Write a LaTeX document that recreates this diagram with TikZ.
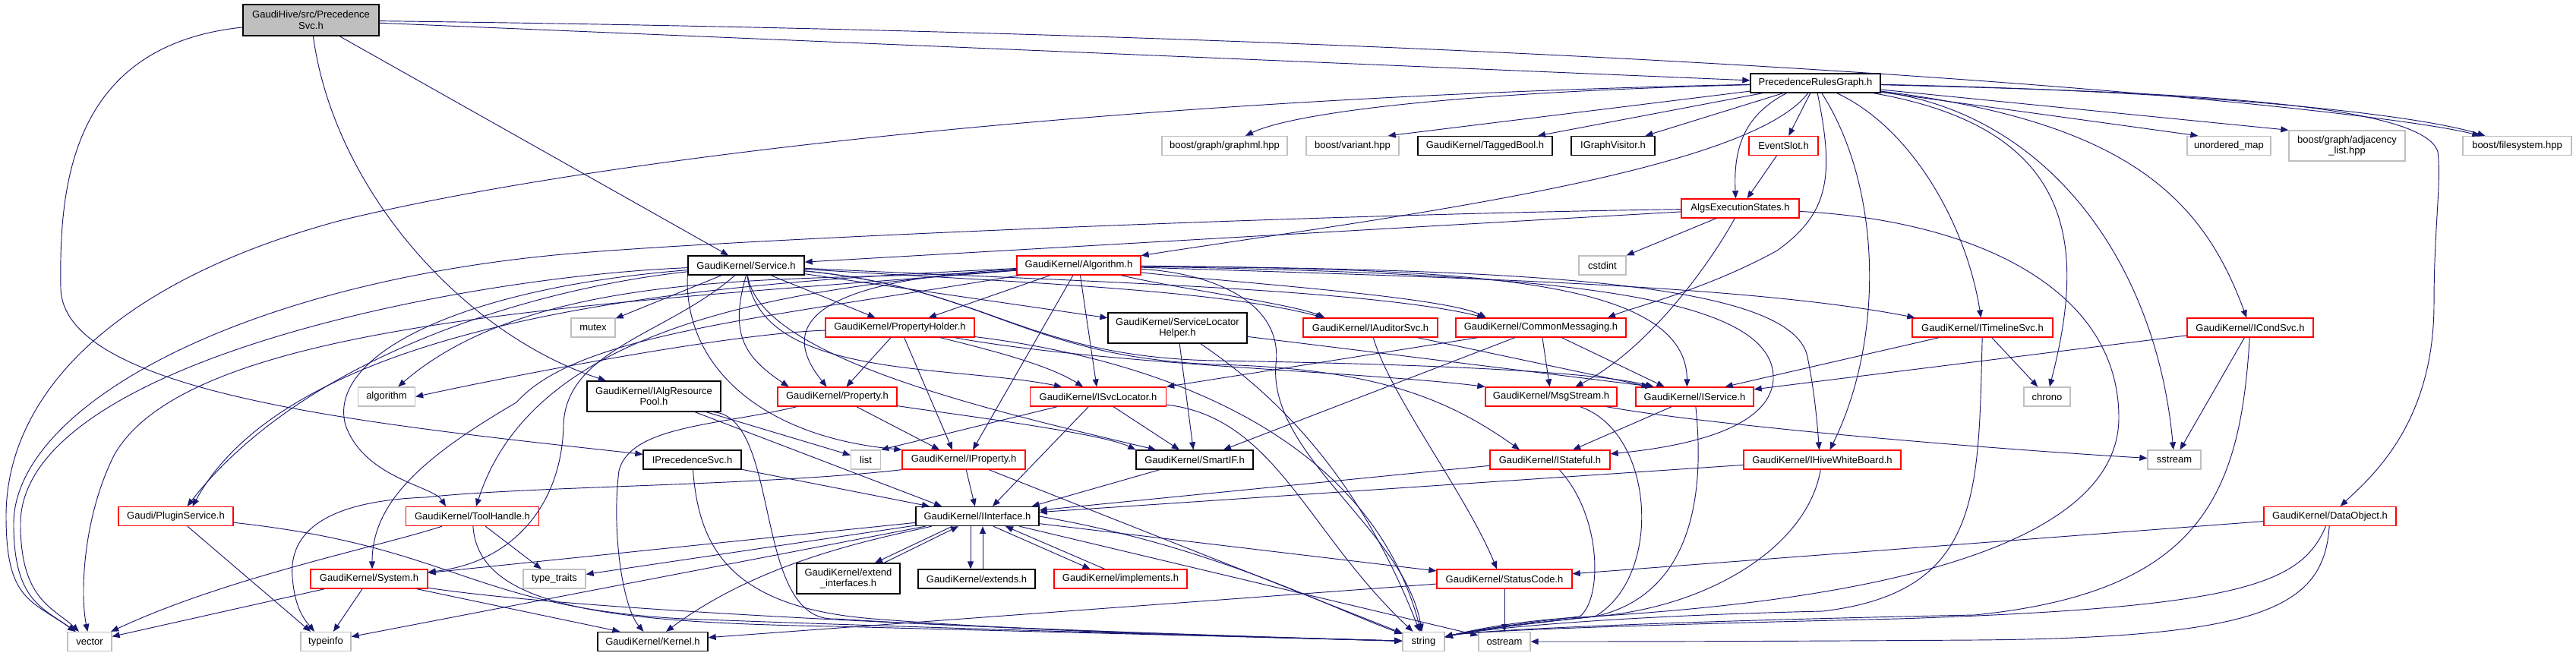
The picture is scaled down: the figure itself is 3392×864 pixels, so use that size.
\documentclass[tikz,border=0pt]{standalone}
\usepackage{fontspec}
\setmainfont{Liberation Sans}
\usetikzlibrary{arrows.meta,calc}
\definecolor{edgeblue}{HTML}{191970}
\definecolor{boxgray}{HTML}{BFBFBF}
\definecolor{boxred}{HTML}{FF0000}
\begin{document}
\begin{tikzpicture}[
                x = 0.75pt,
                y = -0.75pt,
                ->,
                > = {Triangle[length=7.5pt, width=6pt]},
                color = edgeblue,
                line width = 0.7pt
                ]

                \tikzstyle{file}=[
                        rectangle,
                        draw = black,
                        text = black,
                        fill = white,
                        line width = 1pt,
                        inner xsep = 2pt,
                        inner ysep = 1pt,
                        minimum height = 18.75pt,
                        align = center,
                        font = \fontsize{9.75}{11}\selectfont
                ]
                \tikzstyle{redfile}=[file, draw = boxred]
                \tikzstyle{stdfile}=[file, draw = boxgray]
                \tikzstyle{mainfile}=[file, fill = boxgray]

                \path[fill = white] (0,0) rectangle (3392,864);
                \useasboundingbox (0,0) rectangle (3392,864);

                \node[mainfile, minimum width=134.25pt, minimum height=30.75pt] (psvc) at (409.5,26.5) {GaudiHive/src/Precedence\\Svc.h};
                \node[file, minimum width=128.25pt] (prg) at (2390.5,109.5) {PrecedenceRulesGraph.h};
                \node[stdfile, minimum width=123.75pt] (graphml) at (1612.5,192) {boost/graph/graphml.hpp};
                \node[stdfile, minimum width=91.5pt] (variant) at (1781,192) {boost/variant.hpp};
                \node[file, minimum width=132.75pt] (tagged) at (1955.5,192) {GaudiKernel/TaggedBool.h};
                \node[file, minimum width=82.5pt] (igv) at (2124,192) {IGraphVisitor.h};
                \node[redfile, minimum width=68.25pt] (evslot) at (2348.5,192) {EventSlot.h};
                \node[stdfile, minimum width=82.5pt] (unmap) at (2935,192) {unordered\_map};
                \node[stdfile, minimum width=114.75pt, minimum height=30pt] (adjl) at (3090.5,192) {boost/graph/adjacency\\\_list.hpp};
                \node[stdfile, minimum width=107.25pt] (fsys) at (3314.5,192) {boost/filesystem.hpp};
                \node[redfile, minimum width=116.25pt] (aes) at (2291.5,274.5) {AlgsExecutionStates.h};
                \node[file, minimum width=114.75pt] (service) at (982.5,349.5) {GaudiKernel/Service.h};
                \node[redfile, minimum width=122.25pt] (algorithm) at (1420.5,349.5) {GaudiKernel/Algorithm.h};
                \node[stdfile, minimum width=46.5pt] (cstdint) at (2110,349.5) {cstdint};
                \node[stdfile, minimum width=43.5pt] (mutex) at (781,431.5) {mutex};
                \node[redfile, minimum width=147pt] (propholder) at (1185,431.5) {GaudiKernel/PropertyHolder.h};
                \node[file, minimum width=137.25pt, minimum height=30pt] (slhelper) at (1550.5,432) {GaudiKernel/ServiceLocator\\Helper.h};
                \node[redfile, minimum width=132.75pt] (iauditor) at (1804.5,431.5) {GaudiKernel/IAuditorSvc.h};
                \node[redfile, minimum width=168pt] (commsg) at (2029,431.5) {GaudiKernel/CommonMessaging.h};
                \node[redfile, minimum width=138.75pt] (itimeline) at (2610.5,431.5) {GaudiKernel/ITimelineSvc.h};
                \node[redfile, minimum width=124.5pt] (icond) at (2963,431.5) {GaudiKernel/ICondSvc.h};
                \node[stdfile, minimum width=56.25pt] (algo) at (509,522.5) {algorithm};
                \node[file, minimum width=132pt, minimum height=30pt] (ialgpool) at (861,522) {GaudiKernel/IAlgResource\\Pool.h};
                \node[redfile, minimum width=117.75pt] (property) at (1102.5,522.5) {GaudiKernel/Property.h};
                \node[redfile, minimum width=134.25pt] (isvcloc) at (1446,522.5) {GaudiKernel/ISvcLocator.h};
                \node[redfile, minimum width=129.75pt] (msgstream) at (2042.5,522.5) {GaudiKernel/MsgStream.h};
                \node[redfile, minimum width=116.25pt] (iservice) at (2231.5,522.5) {GaudiKernel/IService.h};
                \node[stdfile, minimum width=45.75pt] (chrono) at (2695.5,522.5) {chrono};
                \node[file, minimum width=96.75pt] (iprecsvc) at (911.5,605.5) {IPrecedenceSvc.h};
                \node[stdfile, minimum width=29.25pt] (list) at (1140,605.5) {list};
                \node[redfile, minimum width=121.5pt] (iproperty) at (1269,605.5) {GaudiKernel/IProperty.h};
                \node[file, minimum width=115.5pt] (smartif) at (1573,605.5) {GaudiKernel/SmartIF.h};
                \node[redfile, minimum width=118.5pt] (istateful) at (2041,605.5) {GaudiKernel/IStateful.h};
                \node[redfile, minimum width=155.25pt] (ihive) at (2399.5,605.5) {GaudiKernel/IHiveWhiteBoard.h};
                \node[stdfile, minimum width=52.5pt] (sstream) at (2863,605.5) {sstream};
                \node[redfile, minimum width=113.25pt] (plugin) at (231.5,680) {Gaudi/PluginService.h};
                \node[redfile, minimum width=131.25pt] (toolhandle) at (622,680) {GaudiKernel/ToolHandle.h};
                \node[file, minimum width=121.5pt] (iinterface) at (1287,680) {GaudiKernel/IInterface.h};
                \node[redfile, minimum width=130.5pt] (dataobj) at (3068,680) {GaudiKernel/DataObject.h};
                \node[redfile, minimum width=115.5pt] (system) at (486,762.5) {GaudiKernel/System.h};
                \node[stdfile, minimum width=61.5pt] (typetraits) at (730,762.5) {type\_traits};
                \node[file, minimum width=102pt, minimum height=30pt] (extendif) at (1117,762) {GaudiKernel/extend\\\_interfaces.h};
                \node[file, minimum width=115.5pt] (extends) at (1286,762.5) {GaudiKernel/extends.h};
                \node[redfile, minimum width=131.25pt] (implements) at (1475.5,762.5) {GaudiKernel/implements.h};
                \node[redfile, minimum width=133.5pt] (statuscode) at (1981,762.5) {GaudiKernel/StatusCode.h};
                \node[stdfile, minimum width=43.5pt] (vector) at (118,845) {vector};
                \node[stdfile, minimum width=49.5pt] (typeinfo) at (429,845) {typeinfo};
                \node[file, minimum width=108.75pt] (kernel) at (859.5,845) {GaudiKernel/Kernel.h};
                \node[stdfile, minimum width=41.25pt] (string) at (1874.5,845) {string};
                \node[stdfile, minimum width=51pt] (ostream) at (1981,845) {ostream};

                % PrecedenceSvc.h
                \draw (psvc) -- (prg);
                \draw (psvc) .. controls (2300,50) and (3150,148) .. (fsys);
                \draw (psvc) -- (service);
                \draw (psvc) .. controls (440,250) and (610,440) .. (ialgpool);
                \draw (psvc) .. controls (90,60) and (78,250) .. (80,380) .. controls (84,520) and (500,560) .. (iprecsvc);

                % PrecedenceRulesGraph.h
                \draw (prg) .. controls (1500,128) and (800,205) .. (450,290) .. controls (150,370) and (8,520) .. (8,680) .. controls (8,790) and (40,790) .. (vector);
                \draw (prg) .. controls (2300,230) and (1800,290) .. (algorithm);
                \draw (prg) .. controls (1900,122) and (1700,150) .. (graphml);
                \draw (prg) -- ($(variant.north east)+(-15,0)$);
                \draw (prg) -- (tagged);
                \draw (prg) -- (igv);
                \draw (prg) -- (evslot);
                \draw ($(prg.south)+(-38,0)$) .. controls (2300,150) and (2282,190) .. ($(aes.north)+(-6,0)$);
                \draw (prg) .. controls (2415,230) and (2410,280) .. (2340,330) .. controls (2250,380) and (2150,405) .. ($(commsg.north)+(88,0)$);
                \draw (prg) .. controls (2480,250) and (2480,450) .. ($(ihive.north)+(10,0)$);
                \draw (prg) .. controls (2520,170) and (2590,300) .. (itimeline);
                \draw (prg) .. controls (2740,170) and (2745,330) .. (chrono);
                \draw (prg) .. controls (2700,150) and (2840,350) .. (sstream);
                \draw (prg) .. controls (2800,160) and (2900,260) .. (icond);
                \draw (prg) .. controls (2800,120) and (3190,130) .. (3210,200) .. controls (3215,240) and (3205,300) .. (3205,400) .. controls (3205,560) and (3120,630) .. (dataobj);
                \draw (prg) -- ($(unmap.north west)+(15,0)$);
                \draw (prg) -- (adjl.north west);
                \draw (prg) .. controls (2900,120) and (3180,150) .. (fsys);

                % AlgsExecutionStates.h
                \draw (evslot) -- (aes);
                \draw (aes) -- (service);
                \draw (aes) .. controls (1700,283) and (900,318) .. (720,337) .. controls (300,380) and (18,540) .. (18,690) .. controls (18,790) and (55,800) .. (vector);
                \draw (aes) -- (cstdint);
                \draw (aes) .. controls (2250,350) and (2170,460) .. ($(msgstream.north)+(32,0)$);
                \draw (aes) .. controls (2600,290) and (2790,380) .. (2790,550) .. controls (2790,760) and (2300,800) .. (2080,813) .. controls (1990,818) and (1930,832) .. ($(string.east)+(0,-6)$);

                % Service.h
                \draw (service) -- (mutex);
                \draw (service) -- (propholder);
                \draw (service) -- (slhelper);
                \draw (service) .. controls (1300,370) and (1600,380) .. ($(iauditor.north)+(-62,0)$);
                \draw (service) .. controls (1400,370) and (1800,380) .. ($(commsg.north)+(-74,0)$);
                \draw (service) .. controls (1000,500) and (1250,480) .. ($(isvcloc.north)+(-48,0)$);
                \draw (service) .. controls (1300,380) and (1350,470) .. (1600,475) .. controls (1900,480) and (2100,490) .. ($(iservice.north)+(-54,0)$);
                \draw (service) .. controls (1300,380) and (1350,470) .. (1600,480) .. controls (1800,485) and (1900,520) .. ($(istateful.north)+(-40,0)$);
                \draw (service) .. controls (1000,470) and (1300,540) .. ($(smartif.north)+(-51,0)$);
                \draw (service.south west) .. controls (900,480) and (1000,575) .. (iproperty.north west);
                \draw (service.south) .. controls (960,440) and (980,470) .. ($(property.north)+(-64,0)$);
                \draw (service) .. controls (600,380) and (430,470) .. (455,560) .. controls (480,630) and (570,640) .. ($(toolhandle.north)+(-35,0)$);
                \draw (service) .. controls (700,380) and (400,470) .. ($(plugin.north)+(15,0)$);
                \draw (service) .. controls (880,440) and (745,460) .. (742,560) .. controls (740,660) and (680,740) .. (system);
                \draw (service) .. controls (600,365) and (27,480) .. (27,690) .. controls (27,790) and (70,800) .. (vector);

                % Algorithm.h
                \draw (algorithm) -- (propholder);
                \draw (algorithm) -- (isvcloc);
                \draw (algorithm) -- ($(iproperty.north)+(12,0)$);
                \draw (algorithm) .. controls (1550,380) and (1700,400) .. ($(iauditor.north)+(-60,0)$);
                \draw (algorithm) .. controls (1600,370) and (1900,390) .. ($(commsg.north)+(-72,0)$);
                \draw (algorithm) .. controls (1900,355) and (2220,360) .. ($(iservice.north)+(-10,0)$);
                \draw (algorithm) .. controls (2000,360) and (2340,380) .. (2335,500) .. controls (2330,570) and (2200,590) .. (istateful);
                \draw (algorithm) .. controls (2000,355) and (2360,370) .. (2380,470) .. controls (2390,520) and (2393,560) .. ($(ihive.north)+(-4,0)$);
                \draw (algorithm) .. controls (1900,365) and (2300,375) .. ($(itimeline.north west)+(4,0)$);
                \draw (algorithm) .. controls (1150,365) and (1000,400) .. ($(property.north)+(-14,0)$);
                \draw (algorithm) .. controls (1000,380) and (700,440) .. ($(toolhandle.north)+(5,0)$);
                \draw (algorithm) .. controls (1000,370) and (400,400) .. ($(plugin.north)+(22,0)$);
                \draw (algorithm) .. controls (1000,420) and (760,440) .. (680,530) .. controls (560,600) and (490,660) .. ($(system.north)+(4,0)$);
                \draw (algorithm) .. controls (1100,375) and (720,340) .. (algo);
                \draw (algorithm) .. controls (800,400) and (250,420) .. (150,600) .. controls (110,680) and (105,780) .. (vector);
                \draw (algorithm) .. controls (1600,360) and (1690,400) .. (1680,480) .. controls (1670,600) and (1850,700) .. (string);

                % PropertyHolder.h
                \draw (propholder) -- (property);
                \draw (propholder) -- ($(iproperty.north)+(-15,0)$);
                \draw (propholder) .. controls (1300,460) and (1380,480) .. ($(isvcloc.north)+(-20,0)$);
                \draw (propholder) .. controls (1450,480) and (1800,490) .. (msgstream.north west);
                \draw (propholder) .. controls (950,440) and (650,500) .. (algo.east);
                \draw (propholder) .. controls (1500,470) and (1800,560) .. (string);

                % Property.h
                \draw (property) -- ($(iproperty.north)+(-32,0)$);
                \draw (property) .. controls (1250,545) and (1450,570) .. (smartif.north west);
                \draw (property) .. controls (950,560) and (830,560) .. (815,620) .. controls (805,700) and (820,800) .. ($(kernel.north)+(-12,0)$);

                % ISvcLocator.h
                \draw (isvcloc) -- ($(iinterface.north)+(20,0)$);
                \draw (isvcloc) -- (smartif);
                \draw (isvcloc) -- (list.north east);
                \draw (isvcloc) .. controls (1680,550) and (1720,700) .. (string);

                % ServiceLocatorHelper.h
                \draw (slhelper) -- (smartif);
                \draw (slhelper) -- ($(iservice.north)+(-55,0)$);
                \draw (slhelper) .. controls (1650,500) and (1780,600) .. (string);

                % IAuditorSvc.h
                \draw (iauditor) -- ($(iservice.north)+(-60,0)$);
                \draw (iauditor) .. controls (1830,520) and (1930,650) .. ($(statuscode.north)+(-10,0)$);

                % CommonMessaging.h
                \draw (commsg) -- ($(iservice.north)+(-40,0)$);
                \draw (commsg) -- (msgstream);
                \draw (commsg) -- (isvcloc.north east);
                \draw (commsg) -- ($(smartif.north)+(38,0)$);

                % MsgStream.h
                \draw (msgstream) .. controls (2250,560) and (2600,590) .. (sstream);
                \draw (msgstream) .. controls (2180,570) and (2190,760) .. (2100,812) .. controls (2000,822) and (1930,832) .. ($(string.east)+(0,-6)$);

                % IService.h
                \draw (iservice) -- (istateful);
                \draw (iservice) .. controls (2250,700) and (2200,790) .. (2100,812) .. controls (2000,822) and (1930,832) .. ($(string.east)+(0,-6)$);

                % IStateful.h
                \draw (istateful) -- (iinterface);
                \draw (istateful) .. controls (2110,680) and (2110,790) .. (2080,812) .. controls (1990,822) and (1930,832) .. ($(string.east)+(0,-6)$);

                % IHiveWhiteBoard.h
                \draw (ihive) -- (iinterface);
                \draw (ihive) .. controls (2380,720) and (2250,800) .. (2100,812) .. controls (2000,822) and (1930,832) .. ($(string.east)+(0,-6)$);

                % ITimelineSvc.h
                \draw (itimeline) -- ($(iservice.north east)+(-38,0)$);
                \draw (itimeline) -- (chrono);
                \draw (itimeline) .. controls (2605,650) and (2610,780) .. (2400,805) .. controls (2100,812) and (1940,830) .. ($(string.east)+(0,-6)$);

                % ICondSvc.h
                \draw (icond) -- (iservice);
                \draw (icond) -- (sstream);
                \draw (icond) .. controls (2950,650) and (2900,780) .. (2600,810) .. controls (2200,818) and (1940,830) .. ($(string.east)+(0,-6)$);

                % DataObject.h
                \draw (dataobj) -- (statuscode);
                \draw (dataobj) .. controls (3030,770) and (2950,800) .. (2500,815) .. controls (2200,822) and (1940,830) .. ($(string.east)+(0,-6)$);
                \draw (dataobj) .. controls (3060,800) and (2980,840) .. (2600,843) .. controls (2300,845) and (2100,845) .. (ostream);

                % IAlgResourcePool.h
                \draw (ialgpool) -- ($(iinterface.north)+(-47,0)$);
                \draw (ialgpool) -- (list);
                \draw ($(ialgpool.south east)+(-10,0)$) .. controls (1030,550) and (990,820) .. (1100,815) .. controls (1300,828) and (1700,840) .. (string);

                % IPrecedenceSvc.h
                \draw (iprecsvc) -- ($(iinterface.north)+(-63,0)$);
                \draw (iprecsvc) .. controls (920,720) and (960,800) .. (1150,815) .. controls (1400,835) and (1700,840) .. (string);

                % IProperty.h
                \draw (iproperty) -- (iinterface);
                \draw (iproperty) -- (string);
                \draw (iproperty.south west) .. controls (1000,640) and (700,640) .. (560,655) .. controls (430,660) and (380,700) .. (385,760) .. controls (388,800) and (400,815) .. ($(typeinfo.north)+(-15,0)$);

                % SmartIF.h
                \draw (smartif) -- ($(iinterface.north east)+(-10,0)$);

                % IInterface.h
                \draw (iinterface) -- (system);
                \draw (iinterface) -- (typetraits);
                \draw (iinterface) -- (typeinfo);
                \draw (iinterface) .. controls (1150,710) and (1000,740) .. (kernel);
                \draw (iinterface) -- (statuscode);
                \draw (iinterface) -- (ostream);
                \draw (iinterface.east) .. controls (1600,720) and (1750,800) .. (string);
                \draw ($(iinterface.south)+(-33,0)$) -- ($(extendif.north)+(35,0)$);
                \draw ($(extendif.north)+(47,0)$) -- ($(iinterface.south)+(-25,0)$);
                \draw ($(iinterface.south)+(-9,0)$) -- ($(extends.north)+(-8,0)$);
                \draw ($(extends.north)+(8,0)$) -- ($(iinterface.south)+(7,0)$);
                \draw ($(iinterface.south)+(21,0)$) -- ($(implements.north)+(-40,0)$);
                \draw ($(implements.north)+(-21,0)$) -- ($(iinterface.south)+(37,0)$);

                % StatusCode.h
                \draw (statuscode) -- (kernel);
                \draw (statuscode) -- (ostream);

                % System.h
                \draw (system) -- (vector);
                \draw (system) -- ($(typeinfo.north)+(10,0)$);
                \draw (system) -- ($(kernel.north west)+(30,0)$);
                \draw (system) .. controls (800,810) and (1500,835) .. (string);

                % ToolHandle.h
                \draw (toolhandle) .. controls (500,720) and (300,760) .. (vector);
                \draw (toolhandle) -- (typetraits);
                \draw (toolhandle) .. controls (630,800) and (800,820) .. (1100,825) .. controls (1400,833) and (1700,840) .. (string);

                % PluginService.h
                \draw (plugin) -- ($(typeinfo.north)+(-20,0)$);
                \draw (plugin) .. controls (600,720) and (620,800) .. (900,815) .. controls (1300,830) and (1700,840) .. (string);
\end{tikzpicture}
\end{document}
